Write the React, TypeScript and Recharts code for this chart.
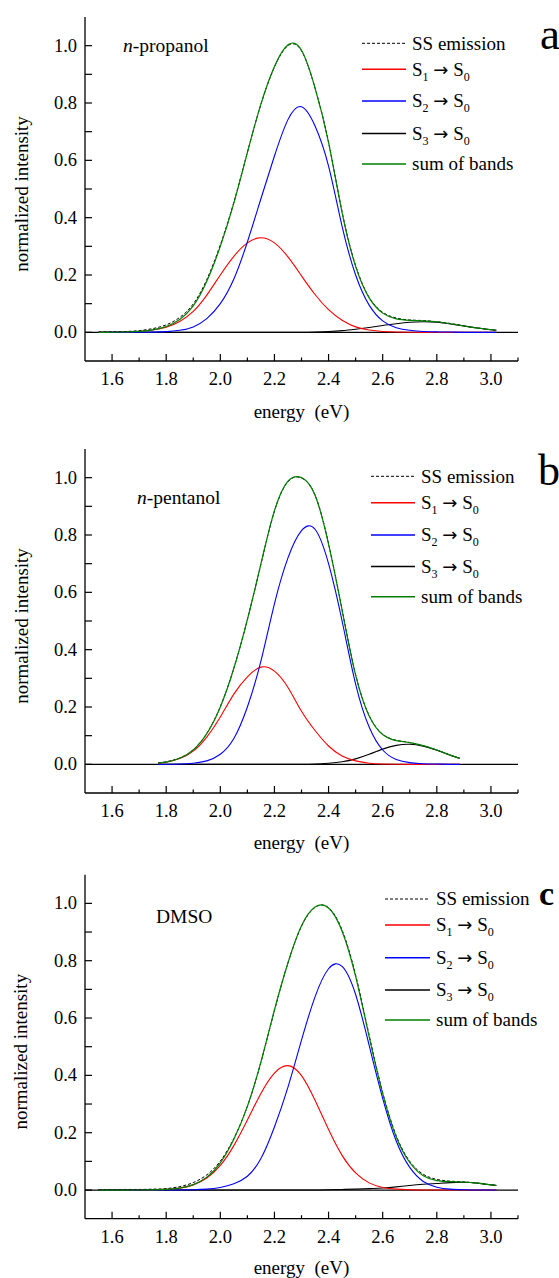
import React from "react";
import { LineChart, Line, XAxis, YAxis, ReferenceLine } from "recharts";

const FONT = "'Liberation Serif', 'Times New Roman', serif";

// ---- panel a : n-propanol ----
const energyA = [1.55, 1.6, 1.65, 1.7, 1.75, 1.8, 1.85, 1.9, 1.95, 2.0, 2.05, 2.1, 2.15, 2.2, 2.25, 2.3, 2.35, 2.4, 2.45, 2.5, 2.55, 2.6, 2.65, 2.7, 2.75, 2.8, 2.85, 2.9, 2.95, 3.0, 3.02];
const ssA = [0.001, 0.002, 0.003, 0.006, 0.013, 0.026, 0.052, 0.099, 0.184, 0.305, 0.454, 0.628, 0.795, 0.925, 1.0, 0.982, 0.852, 0.664, 0.42, 0.233, 0.122, 0.07, 0.05, 0.043, 0.041, 0.037, 0.031, 0.023, 0.015, 0.009, 0.007];
const s1A = [0.0001, 0.0003, 0.001, 0.003, 0.008, 0.018, 0.038, 0.073, 0.13, 0.2, 0.265, 0.312, 0.33, 0.312, 0.263, 0.197, 0.132, 0.079, 0.042, 0.019, 0.008, 0.003, 0.001, 0.0003, 0, 0, 0, 0, 0, 0, 0];
const s2A = [0, 0, 0.0001, 0.0002, 0.0007, 0.0024, 0.007, 0.019, 0.048, 0.1, 0.186, 0.315, 0.466, 0.615, 0.742, 0.787, 0.72, 0.58, 0.37, 0.2, 0.095, 0.04, 0.016, 0.007, 0.003, 0.0015, 0.001, 0, 0, 0, 0];
const s3A = [0, 0, 0, 0, 0, 0, 0, 0, 0, 0, 0, 0, 0, 0, 0, 0, 0.001, 0.003, 0.006, 0.011, 0.017, 0.024, 0.03, 0.035, 0.037, 0.035, 0.029, 0.022, 0.015, 0.009, 0.007];
const sumA = [0.0001, 0.0003, 0.0011, 0.0032, 0.0087, 0.0204, 0.045, 0.092, 0.178, 0.3, 0.451, 0.627, 0.796, 0.927, 1.003, 0.984, 0.853, 0.662, 0.418, 0.23, 0.12, 0.067, 0.047, 0.042, 0.04, 0.037, 0.03, 0.022, 0.015, 0.009, 0.007];

// ---- panel b : n-pentanol ----
const energyB = [1.77, 1.8, 1.85, 1.9, 1.95, 2.0, 2.05, 2.1, 2.15, 2.2, 2.25, 2.3, 2.35, 2.4, 2.45, 2.5, 2.55, 2.6, 2.65, 2.7, 2.75, 2.8, 2.85, 2.885];
const ssB = [0.005, 0.009, 0.022, 0.051, 0.108, 0.201, 0.335, 0.505, 0.698, 0.883, 0.986, 0.999, 0.94, 0.77, 0.54, 0.313, 0.17, 0.105, 0.084, 0.076, 0.065, 0.05, 0.032, 0.021];
const s1B = [0.004, 0.0075, 0.02, 0.046, 0.095, 0.165, 0.245, 0.305, 0.339, 0.325, 0.268, 0.185, 0.118, 0.064, 0.029, 0.012, 0.004, 0.0013, 0.0004, 0, 0, 0, 0, 0];
const s2B = [0, 0.0002, 0.001, 0.004, 0.012, 0.035, 0.09, 0.2, 0.36, 0.56, 0.72, 0.815, 0.82, 0.7, 0.5, 0.28, 0.13, 0.05, 0.017, 0.006, 0.002, 0.001, 0, 0];
const s3B = [0, 0, 0, 0, 0, 0, 0, 0, 0, 0, 0, 0, 0.001, 0.004, 0.009, 0.019, 0.035, 0.053, 0.066, 0.07, 0.063, 0.049, 0.032, 0.021];
const sumB = [0.004, 0.0077, 0.021, 0.05, 0.107, 0.2, 0.335, 0.505, 0.699, 0.885, 0.988, 1.0, 0.939, 0.768, 0.538, 0.311, 0.169, 0.104, 0.083, 0.076, 0.065, 0.05, 0.032, 0.021];

// ---- panel c : DMSO ----
const energyC = [1.55, 1.6, 1.65, 1.7, 1.75, 1.8, 1.85, 1.9, 1.95, 2.0, 2.05, 2.1, 2.15, 2.2, 2.25, 2.3, 2.35, 2.4, 2.45, 2.5, 2.55, 2.6, 2.65, 2.7, 2.75, 2.8, 2.85, 2.9, 2.95, 3.0, 3.02];
const ssC = [0.001, 0.001, 0.002, 0.002, 0.003, 0.005, 0.012, 0.026, 0.053, 0.101, 0.18, 0.292, 0.445, 0.626, 0.792, 0.92, 0.986, 0.985, 0.907, 0.75, 0.54, 0.34, 0.19, 0.1, 0.055, 0.037, 0.031, 0.028, 0.024, 0.018, 0.016];
const s1C = [0, 0, 0, 0.0002, 0.0006, 0.0022, 0.0067, 0.018, 0.042, 0.086, 0.155, 0.244, 0.337, 0.408, 0.434, 0.399, 0.313, 0.211, 0.121, 0.06, 0.025, 0.009, 0.003, 0.001, 0.0003, 0, 0, 0, 0, 0, 0];
const s2C = [0, 0, 0, 0, 0, 0, 0.0002, 0.0009, 0.003, 0.009, 0.022, 0.048, 0.11, 0.22, 0.359, 0.523, 0.674, 0.772, 0.78, 0.682, 0.505, 0.32, 0.171, 0.079, 0.03, 0.01, 0.003, 0.001, 0, 0, 0];
const s3C = [0, 0, 0, 0, 0, 0, 0, 0, 0, 0, 0, 0, 0, 0, 0, 0, 0, 0.001, 0.002, 0.003, 0.005, 0.007, 0.011, 0.016, 0.02, 0.023, 0.026, 0.027, 0.024, 0.018, 0.016];
const sumC = [0, 0, 0, 0.0002, 0.0006, 0.0022, 0.0069, 0.019, 0.045, 0.095, 0.177, 0.292, 0.447, 0.628, 0.793, 0.922, 0.987, 0.984, 0.903, 0.745, 0.535, 0.336, 0.185, 0.096, 0.05, 0.033, 0.029, 0.028, 0.024, 0.018, 0.016];

const xTicks = [1.6, 1.7, 1.8, 1.9, 2.0, 2.1, 2.2, 2.3, 2.4, 2.5, 2.6, 2.7, 2.8, 2.9, 3.0, 3.1];
const yTicks = [0, 0.1, 0.2, 0.3, 0.4, 0.5, 0.6, 0.7, 0.8, 0.9, 1.0];

const build = (e: number[], ss: number[], s1: number[], s2: number[], s3: number[], sum: number[]) =>
  e.map((v, i) => ({ e: v, ss: ss[i], s1: s1[i], s2: s2[i], s3: s3[i], sum: sum[i] }));

const RED = "#ff0000";
const BLUE = "#0000ff";
const GREEN = "#007f00";

const XTick = (props: any) => {
  const { x, y, payload } = props;
  const major = Math.round(payload.value * 10) % 2 === 0;
  return (
    <g>
      <line x1={x} x2={x} y1={y} y2={y - (major ? 7 : 3.5)} stroke="#000" strokeWidth={1.2} />
      {major && (
        <text x={x} y={y + 24} textAnchor="middle" fontSize={18.5} fontFamily={FONT} fill="#000">
          {payload.value.toFixed(1)}
        </text>
      )}
    </g>
  );
};

const YTick = (props: any) => {
  const { x, y, payload } = props;
  const major = Math.round(payload.value * 10) % 2 === 0;
  return (
    <g>
      <line x1={x} x2={x + 7} y1={y} y2={y} stroke="#000" strokeWidth={1.2} />
      {major && (
        <text x={x - 8} y={y + 6} textAnchor="end" fontSize={18.5} fontFamily={FONT} fill="#000">
          {payload.value.toFixed(1)}
        </text>
      )}
    </g>
  );
};

const Sub = ({ x, y, n }: { x: number; y: number; n: string }) => (
  <text x={x} y={y} fontSize={19} fontFamily={FONT} fill="#000">
    S<tspan fontSize={12} dy={5}>{n}</tspan>
    <tspan dy={-5}>{"\u00a0"}</tspan>
    <tspan fontFamily="'DejaVu Sans', sans-serif" fontSize={18}>{"\u2192"}</tspan>
    <tspan>{"\u00a0S"}</tspan>
    <tspan fontSize={12} dy={5}>0</tspan>
  </text>
);

type PanelProps = {
  top: number;
  height: number;
  data: any[];
  marginTop: number;
  axisH: number;
  labelDy: number;
  legend: { x1: number; x2: number; tx: number; rows: number[] };
  note: React.ReactNode;
  letter: React.ReactNode;
};

const Panel = ({ top, height, data, marginTop, axisH, labelDy, legend, note, letter }: PanelProps) => {
  const r = legend.rows;
  return (
    <div style={{ position: "absolute", left: 0, top, width: 559, height }}>
      <LineChart width={559} height={height} data={data} margin={{ top: marginTop, right: 41, bottom: 0, left: 0 }}>
        <XAxis
          dataKey="e"
          type="number"
          domain={[1.5, 3.1]}
          ticks={xTicks}
          interval={0}
          tick={(p: any) => <XTick {...p} />}
          tickLine={false}
          tickSize={0}
          tickMargin={0}
          height={axisH}
          axisLine={{ stroke: "#000", strokeWidth: 1.3 }}
          allowDataOverflow
          label={{
            content: (p: any) => {
              const vb = p.viewBox || { x: 85, y: 0, width: 433 };
              return (
                <text x={vb.x + vb.width / 2} y={vb.y + labelDy} textAnchor="middle" fontSize={19} fontFamily={FONT} fill="#000" style={{ whiteSpace: "pre" }}>
                  energy  (eV)
                </text>
              );
            },
          }}
        />
        <YAxis
          type="number"
          domain={[-0.1, 1.1]}
          ticks={yTicks}
          interval={0}
          tick={(p: any) => <YTick {...p} />}
          tickLine={false}
          tickSize={0}
          tickMargin={0}
          width={85}
          axisLine={{ stroke: "#000", strokeWidth: 1.3 }}
          allowDataOverflow
          label={{
            content: (p: any) => {
              const vb = p.viewBox || { x: 0, y: marginTop, height: 344 };
              const cx = vb.x + 21;
              const cy = vb.y + vb.height / 2 + 5;
              return (
                <text x={cx} y={cy} transform={`rotate(-90 ${cx} ${cy})`} textAnchor="middle" dominantBaseline="central" fontSize={19} fontFamily={FONT} fill="#000">
                  normalized intensity
                </text>
              );
            },
          }}
        />
        <ReferenceLine y={0} stroke="#000" strokeWidth={1.3} />
        <Line type="natural" dataKey="s3" stroke="#000" strokeWidth={1.1} dot={false} isAnimationActive={false} />
        <Line type="natural" dataKey="s1" stroke={RED} strokeWidth={1.1} dot={false} isAnimationActive={false} />
        <Line type="natural" dataKey="s2" stroke={BLUE} strokeWidth={1.1} dot={false} isAnimationActive={false} />
        <Line type="natural" dataKey="ss" stroke="#000" strokeWidth={1} strokeDasharray="3 2" dot={false} isAnimationActive={false} />
        <Line type="natural" dataKey="sum" stroke={GREEN} strokeWidth={1.2} dot={false} isAnimationActive={false} />
      </LineChart>
      <svg width={559} height={height} style={{ position: "absolute", left: 0, top: 0, pointerEvents: "none" }}>
        <line x1={legend.x1} x2={legend.x2} y1={r[0]} y2={r[0]} stroke="#000" strokeWidth={1} strokeDasharray="3 2" />
        <text x={legend.tx} y={r[0] + 6.3} fontSize={19} fontFamily={FONT} fill="#000">SS emission</text>
        <line x1={legend.x1} x2={legend.x2} y1={r[1]} y2={r[1]} stroke={RED} strokeWidth={1.4} />
        <Sub x={legend.tx} y={r[1] + 6.3} n="1" />
        <line x1={legend.x1} x2={legend.x2} y1={r[2]} y2={r[2]} stroke={BLUE} strokeWidth={1.4} />
        <Sub x={legend.tx} y={r[2] + 6.3} n="2" />
        <line x1={legend.x1} x2={legend.x2} y1={r[3]} y2={r[3]} stroke="#000" strokeWidth={1.4} />
        <Sub x={legend.tx} y={r[3] + 6.3} n="3" />
        <line x1={legend.x1} x2={legend.x2} y1={r[4]} y2={r[4]} stroke={GREEN} strokeWidth={1.4} />
        <text x={legend.tx} y={r[4] + 6.3} fontSize={19} fontFamily={FONT} fill="#000">sum of bands</text>
        {note}
        {letter}
      </svg>
    </div>
  );
};

const dataA = build(energyA, ssA, s1A, s2A, s3A, sumA);
const dataB = build(energyB, ssB, s1B, s2B, s3B, sumB);
const dataC = build(energyC, ssC, s1C, s2C, s3C, sumC);

const App: React.FC = () => (
  <div style={{ position: "absolute", left: 0, top: 0, width: 559, height: 1278, background: "#fff" }}>
    <Panel
      top={0}
      height={430}
      data={dataA}
      marginTop={17}
      axisH={69}
      labelDy={57}
      legend={{ x1: 362, x2: 406, tx: 412, rows: [43.3, 69.3, 101, 133.5, 164] }}
      note={
        <text x={123} y={52} fontSize={19.5} fontFamily={FONT} fill="#000">
          <tspan fontStyle="italic">n</tspan>-propanol
        </text>
      }
      letter={<text x={540} y={49} fontSize={45} fontFamily={FONT} fill="#000">a</text>}
    />
    <Panel
      top={430}
      height={430}
      data={dataB}
      marginTop={19}
      axisH={67}
      labelDy={56}
      legend={{ x1: 371, x2: 415, tx: 421, rows: [46.3, 72.7, 105, 136.5, 166.7] }}
      note={
        <text x={137} y={74} fontSize={19.5} fontFamily={FONT} fill="#000">
          <tspan fontStyle="italic">n</tspan>-pentanol
        </text>
      }
      letter={<text x={538} y={55} fontSize={44} fontFamily={FONT} fill="#000">b</text>}
    />
    <Panel
      top={860}
      height={418}
      data={dataC}
      marginTop={14.7}
      axisH={59.3}
      labelDy={55}
      legend={{ x1: 385, x2: 430, tx: 436, rows: [39, 65, 97.7, 130, 160] }}
      note={<text x={156} y={62.7} fontSize={19.5} fontFamily={FONT} fill="#000">DMSO</text>}
      letter={<text x={539} y={45} fontSize={34} fontWeight="bold" fontFamily={FONT} fill="#000">c</text>}
    />
  </div>
);

export default App;
